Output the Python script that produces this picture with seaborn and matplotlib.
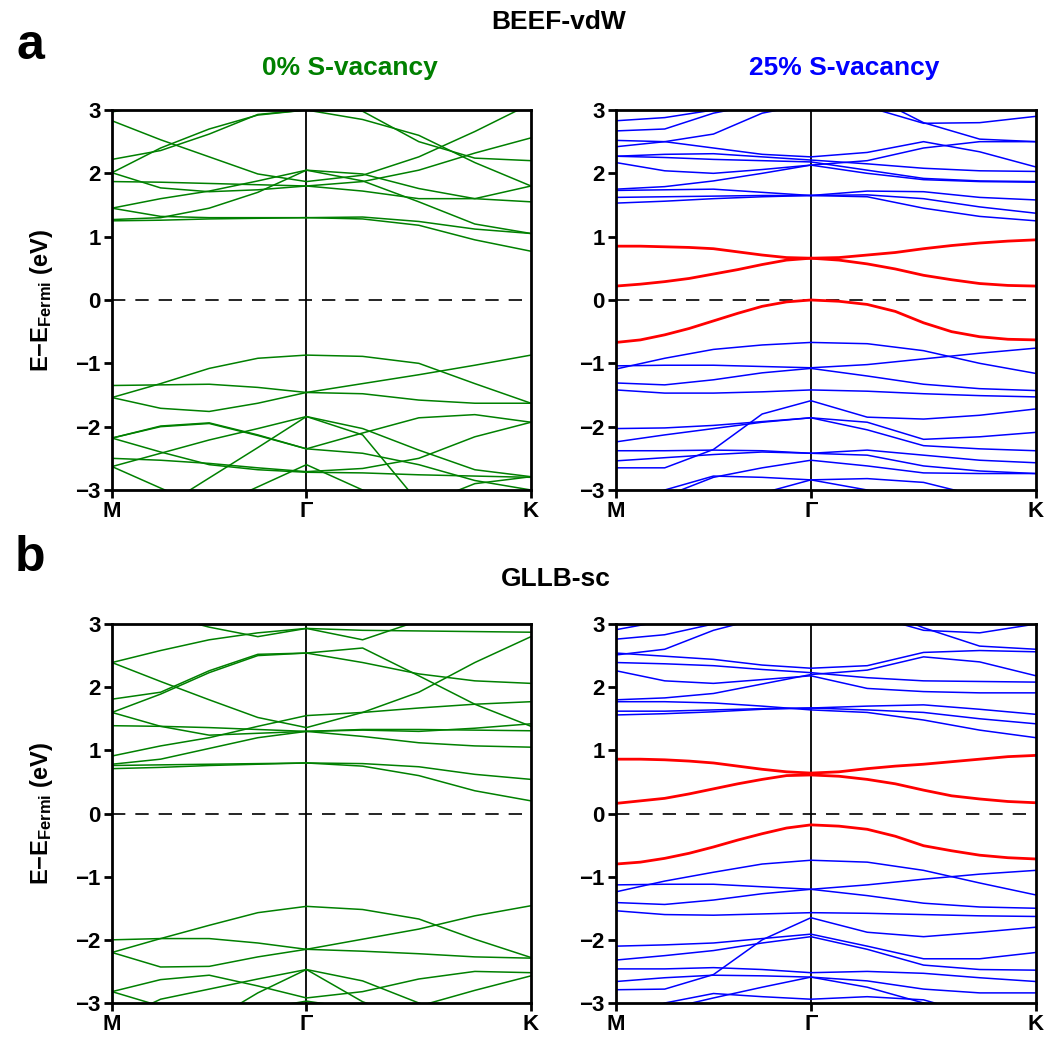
import matplotlib
matplotlib.use("Agg")
import matplotlib.pyplot as plt
import seaborn as sns
import pandas as pd

# k-path M -> Gamma -> K (Gamma-K is 2/sqrt(3) times longer than M-Gamma)
kpath = [0.0, 0.25, 0.5, 0.75, 1.0, 1.289, 1.578, 1.866, 2.155]
# finer sampling used for the thick defect (red) bands
kpath_fine = [0.0, 0.125, 0.25, 0.375, 0.5, 0.625, 0.75, 0.875, 1.0,
              1.144, 1.289, 1.433, 1.578, 1.722, 1.866, 2.011, 2.155]
k_ticks = [0.0, 1.0, 2.155]
k_labels = ['M', 'Γ', 'K']
e_ticks = [-3, -2, -1, 0, 1, 2, 3]

# --- BEEF-vdW, 0% S-vacancy (energies in eV at each kpath point) ---
beef_0_cond = [
    [2.97, 3.10, 3.30, 3.45, 3.50, 3.45, 3.35, 3.20, 3.10],
    [2.83, 2.53, 2.26, 1.99, 1.87, 1.97, 2.26, 2.66, 3.10],
    [2.22, 2.36, 2.62, 2.93, 3.00, 2.98, 2.50, 2.24, 2.20],
    [2.01, 2.40, 2.70, 2.92, 3.00, 2.85, 2.60, 2.17, 1.80],
    [1.45, 1.60, 1.72, 1.88, 2.05, 1.99, 1.76, 1.60, 1.55],
    [1.27, 1.30, 1.45, 1.70, 2.05, 1.88, 1.55, 1.20, 1.05],
    [2.01, 1.77, 1.71, 1.74, 1.80, 1.87, 2.05, 2.32, 2.56],
    [1.87, 1.86, 1.84, 1.82, 1.80, 1.72, 1.60, 1.60, 1.80],
    [1.25, 1.26, 1.28, 1.29, 1.30, 1.31, 1.24, 1.12, 1.05],
    [1.45, 1.32, 1.30, 1.30, 1.30, 1.28, 1.18, 0.95, 0.77],
]
beef_0_val = [
    [-1.54, -1.32, -1.08, -0.92, -0.87, -0.89, -1.00, -1.32, -1.63],
    [-1.35, -1.34, -1.33, -1.38, -1.46, -1.48, -1.58, -1.63, -1.63],
    [-1.54, -1.71, -1.76, -1.63, -1.46, -1.32, -1.18, -1.03, -0.87],
    [-2.18, -1.99, -1.94, -2.13, -2.35, -2.10, -1.86, -1.81, -1.93],
    [-2.18, -2.40, -2.60, -2.68, -2.72, -2.73, -2.76, -2.78, -2.80],
    [-2.50, -2.53, -2.58, -2.65, -2.71, -2.66, -2.50, -2.16, -1.93],
    [-2.63, -2.42, -2.21, -2.03, -1.84, -2.03, -2.37, -2.68, -2.79],
    [-3.78, -3.29, -2.81, -2.33, -1.84, -2.13, -3.20, -3.50, -3.70],
    [-2.63, -2.97, -3.30, -3.50, -3.60, -3.50, -3.25, -2.90, -2.79],
    [-3.60, -3.50, -3.30, -2.95, -2.60, -3.00, -3.30, -3.50, -3.60],
    [-2.18, -2.00, -1.95, -2.14, -2.35, -2.42, -2.60, -2.85, -3.00],
]

# --- BEEF-vdW, 25% S-vacancy ---
beef_25_cond = [
    [2.83, 2.88, 3.00, 3.10, 3.20, 3.05, 2.79, 2.80, 2.90],
    [2.67, 2.70, 2.95, 3.10, 3.25, 3.25, 2.80, 2.54, 2.50],
    [2.42, 2.50, 2.62, 2.95, 3.10, 3.20, 3.30, 3.30, 3.30],
    [2.52, 2.50, 2.40, 2.30, 2.26, 2.33, 2.50, 2.34, 2.10],
    [2.27, 2.30, 2.31, 2.26, 2.21, 2.15, 2.08, 2.04, 2.03],
    [2.27, 2.25, 2.22, 2.20, 2.18, 2.05, 1.92, 1.88, 1.87],
    [2.17, 2.04, 2.00, 2.06, 2.13, 2.00, 1.90, 1.87, 1.86],
    [1.75, 1.79, 1.88, 2.00, 2.13, 2.20, 2.40, 2.50, 2.50],
    [1.73, 1.74, 1.75, 1.70, 1.65, 1.72, 1.71, 1.62, 1.58],
    [1.62, 1.63, 1.64, 1.65, 1.65, 1.66, 1.60, 1.47, 1.37],
    [1.53, 1.56, 1.60, 1.63, 1.65, 1.63, 1.45, 1.32, 1.25],
]
beef_25_defect = [
    [0.85, 0.85, 0.84, 0.83, 0.81, 0.76, 0.71, 0.67, 0.66,
     0.67, 0.71, 0.75, 0.81, 0.86, 0.90, 0.93, 0.95],
    [0.22, 0.25, 0.29, 0.34, 0.41, 0.48, 0.56, 0.63, 0.66,
     0.63, 0.57, 0.49, 0.39, 0.32, 0.26, 0.23, 0.22],
    [-0.67, -0.63, -0.55, -0.45, -0.33, -0.21, -0.10, -0.03, 0.00,
     -0.02, -0.07, -0.18, -0.36, -0.50, -0.58, -0.62, -0.63],
]
beef_25_val = [
    [-1.09, -0.92, -0.78, -0.71, -0.67, -0.69, -0.80, -1.00, -1.16],
    [-1.04, -1.03, -1.03, -1.05, -1.07, -1.02, -0.93, -0.84, -0.76],
    [-1.31, -1.34, -1.26, -1.15, -1.08, -1.20, -1.33, -1.40, -1.43],
    [-1.42, -1.47, -1.47, -1.45, -1.42, -1.44, -1.48, -1.51, -1.53],
    [-2.65, -2.65, -2.36, -1.80, -1.59, -1.85, -1.88, -1.82, -1.72],
    [-2.24, -2.13, -2.03, -1.93, -1.86, -1.93, -2.20, -2.16, -2.09],
    [-2.03, -2.02, -1.98, -1.92, -1.86, -2.05, -2.30, -2.35, -2.38],
    [-2.38, -2.38, -2.37, -2.38, -2.42, -2.37, -2.45, -2.53, -2.57],
    [-2.54, -2.49, -2.44, -2.40, -2.42, -2.45, -2.62, -2.70, -2.74],
    [-3.30, -3.00, -2.78, -2.80, -2.84, -2.82, -2.88, -3.10, -3.30],
    [-3.50, -3.10, -2.80, -2.65, -2.53, -2.62, -2.73, -2.74, -2.74],
    [-3.60, -3.50, -3.30, -3.05, -2.84, -3.00, -3.20, -3.40, -3.50],
]

# --- GLLB-sc, 0% S-vacancy ---
gllb_0_cond = [
    [3.40, 3.15, 2.95, 2.80, 2.93, 2.75, 3.05, 3.30, 3.40],
    [2.39, 2.58, 2.75, 2.86, 2.93, 2.90, 2.89, 2.88, 2.87],
    [2.39, 2.09, 1.80, 1.52, 1.36, 1.60, 1.92, 2.39, 2.80],
    [1.81, 1.92, 2.26, 2.52, 2.54, 2.62, 2.18, 1.73, 1.38],
    [1.60, 1.89, 2.23, 2.50, 2.54, 2.39, 2.21, 2.10, 2.06],
    [1.60, 1.38, 1.24, 1.27, 1.30, 1.33, 1.33, 1.32, 1.31],
    [1.39, 1.38, 1.36, 1.33, 1.30, 1.22, 1.12, 1.07, 1.05],
    [0.91, 1.07, 1.20, 1.38, 1.55, 1.60, 1.67, 1.73, 1.77],
    [0.78, 0.86, 1.03, 1.20, 1.30, 1.32, 1.30, 1.35, 1.42],
    [0.76, 0.77, 0.78, 0.79, 0.80, 0.79, 0.74, 0.62, 0.54],
    [0.71, 0.73, 0.76, 0.78, 0.80, 0.75, 0.60, 0.36, 0.20],
]
gllb_0_val = [
    [-2.20, -1.98, -1.77, -1.57, -1.47, -1.52, -1.67, -1.99, -2.28],
    [-2.00, -1.98, -1.98, -2.05, -2.15, -1.99, -1.83, -1.62, -1.46],
    [-2.20, -2.43, -2.42, -2.27, -2.15, -2.18, -2.22, -2.27, -2.29],
    [-2.82, -2.63, -2.56, -2.73, -2.92, -2.82, -2.62, -2.50, -2.52],
    [-2.82, -3.05, -3.30, -3.50, -3.60, -3.50, -3.40, -3.20, -3.00],
    [-3.30, -2.94, -2.78, -2.62, -2.47, -2.65, -3.00, -3.30, -3.50],
    [-4.00, -3.70, -3.30, -2.84, -2.47, -2.98, -3.30, -3.60, -3.80],
    [-3.60, -3.50, -3.30, -3.10, -2.97, -3.10, -3.05, -2.80, -2.57],
]

# --- GLLB-sc, 25% S-vacancy ---
gllb_25_cond = [
    [2.91, 3.05, 3.20, 3.30, 3.40, 3.40, 3.30, 3.20, 3.10],
    [2.76, 2.83, 3.00, 3.20, 3.30, 3.15, 2.90, 2.86, 3.00],
    [2.51, 2.60, 2.90, 3.10, 3.20, 3.30, 2.94, 2.65, 2.60],
    [2.54, 2.49, 2.44, 2.35, 2.30, 2.34, 2.55, 2.58, 2.56],
    [2.39, 2.37, 2.34, 2.28, 2.23, 2.15, 2.10, 2.09, 2.08],
    [2.26, 2.10, 2.06, 2.12, 2.18, 1.98, 1.93, 1.91, 1.91],
    [1.80, 1.83, 1.90, 2.05, 2.20, 2.27, 2.48, 2.40, 2.18],
    [1.77, 1.77, 1.75, 1.70, 1.64, 1.60, 1.48, 1.32, 1.20],
    [1.62, 1.62, 1.64, 1.66, 1.67, 1.70, 1.72, 1.65, 1.57],
    [1.56, 1.58, 1.61, 1.65, 1.67, 1.64, 1.60, 1.50, 1.42],
]
gllb_25_defect = [
    [0.86, 0.86, 0.85, 0.83, 0.80, 0.75, 0.70, 0.66, 0.64,
     0.66, 0.71, 0.75, 0.78, 0.82, 0.86, 0.90, 0.92],
    [0.16, 0.20, 0.24, 0.31, 0.39, 0.47, 0.54, 0.60, 0.61,
     0.59, 0.54, 0.47, 0.37, 0.28, 0.23, 0.19, 0.17],
    [-0.80, -0.77, -0.71, -0.63, -0.53, -0.42, -0.32, -0.23, -0.18,
     -0.20, -0.25, -0.36, -0.51, -0.59, -0.66, -0.70, -0.72],
]
gllb_25_val = [
    [-1.24, -1.07, -0.93, -0.80, -0.74, -0.77, -0.90, -1.10, -1.29],
    [-1.13, -1.12, -1.12, -1.16, -1.20, -1.13, -1.04, -0.96, -0.90],
    [-1.41, -1.44, -1.37, -1.27, -1.20, -1.30, -1.42, -1.48, -1.50],
    [-1.54, -1.60, -1.61, -1.59, -1.57, -1.58, -1.60, -1.62, -1.63],
    [-2.10, -2.08, -2.05, -1.98, -1.91, -2.10, -2.30, -2.30, -2.20],
    [-2.32, -2.25, -2.17, -2.05, -1.95, -2.15, -2.40, -2.47, -2.48],
    [-2.79, -2.78, -2.55, -2.00, -1.65, -1.88, -1.95, -1.88, -1.80],
    [-2.46, -2.46, -2.44, -2.47, -2.52, -2.50, -2.53, -2.60, -2.66],
    [-2.66, -2.60, -2.56, -2.57, -2.59, -2.65, -2.78, -2.84, -2.84],
    [-3.30, -3.00, -2.85, -2.90, -2.94, -2.90, -2.95, -3.20, -3.40],
    [-3.50, -3.10, -2.92, -2.75, -2.59, -2.75, -3.00, -3.20, -3.40],
]

GREEN = '#008000'
BLUE = '#0000ff'
RED = '#ff0000'


def to_frame(bands, kgrid):
    rows = []
    for i, band in enumerate(bands):
        for k, e in zip(kgrid, band):
            rows.append((i, k, e))
    return pd.DataFrame(rows, columns=['band', 'k', 'E'])


def draw_bands(ax, bands, color, lw, kgrid=kpath):
    sns.lineplot(data=to_frame(bands, kgrid), x='k', y='E', units='band',
                 estimator=None, sort=False, color=color, lw=lw, ax=ax,
                 legend=False)


def style_axis(ax, ylabel=False):
    ax.set_xlim(0, kpath[-1])
    ax.set_ylim(-3, 3)
    ax.axvline(1.0, color='black', lw=1.3, zorder=0)
    ax.axhline(0, color='black', lw=1.2, ls=(0, (8, 6)), zorder=0)
    ax.set_xticks(k_ticks, k_labels)
    ax.set_yticks(e_ticks)
    ax.set_xlabel('')
    ax.set_ylabel('')
    for s in ax.spines.values():
        s.set_linewidth(2)
        s.set_color('black')
    ax.tick_params(axis='both', direction='out', length=6, width=2,
                   labelsize=16, pad=2, colors='black')
    for lab in ax.get_xticklabels() + ax.get_yticklabels():
        lab.set_fontweight('bold')
    if ylabel:
        ax.set_ylabel(r'E$-$E$_{\mathrm{Fermi}}$ (eV)', fontsize=17,
                      fontweight='bold', color='black')
        ax.yaxis.set_label_coords(-0.135, 0.5)


sns.set_style('ticks')
plt.rcParams['font.family'] = ['Liberation Sans', 'DejaVu Sans']
plt.rcParams['text.color'] = 'black'
plt.rcParams['axes.labelcolor'] = 'black'
plt.rcParams['xtick.color'] = 'black'
plt.rcParams['ytick.color'] = 'black'
plt.rcParams['mathtext.fontset'] = 'custom'
plt.rcParams['mathtext.rm'] = 'Liberation Sans:bold'
plt.rcParams['mathtext.it'] = 'Liberation Sans:bold'
plt.rcParams['mathtext.bf'] = 'Liberation Sans:bold'

W, H = 1047, 1038
fig = plt.figure(figsize=(W / 100, H / 100), dpi=100)

ax_tl = fig.add_axes([112 / W, 1 - 490 / H, 419 / W, 380 / H])
ax_tr = fig.add_axes([616 / W, 1 - 490 / H, 420 / W, 380 / H])
ax_bl = fig.add_axes([112 / W, 1 - 1003 / H, 419 / W, 379 / H])
ax_br = fig.add_axes([616 / W, 1 - 1003 / H, 420 / W, 379 / H])

draw_bands(ax_tl, beef_0_cond, GREEN, 1.1)
draw_bands(ax_tl, beef_0_val, GREEN, 1.1)
draw_bands(ax_tr, beef_25_cond, BLUE, 1.1)
draw_bands(ax_tr, beef_25_val, BLUE, 1.1)
draw_bands(ax_tr, beef_25_defect, RED, 2.0, kpath_fine)
draw_bands(ax_bl, gllb_0_cond, GREEN, 1.1)
draw_bands(ax_bl, gllb_0_val, GREEN, 1.1)
draw_bands(ax_br, gllb_25_cond, BLUE, 1.1)
draw_bands(ax_br, gllb_25_val, BLUE, 1.1)
draw_bands(ax_br, gllb_25_defect, RED, 2.0, kpath_fine)

style_axis(ax_tl, ylabel=True)
style_axis(ax_tr)
style_axis(ax_bl, ylabel=True)
style_axis(ax_br)

title_font = ['Liberation Sans Narrow', 'Liberation Sans', 'DejaVu Sans']
fig.text(559 / W, 1 - 22 / H, 'BEEF-vdW', ha='center', va='center',
         fontsize=19, fontweight='bold', family=title_font, color='black')
fig.text(556 / W, 1 - 579 / H, 'GLLB-sc', ha='center', va='center',
         fontsize=19, fontweight='bold', family=title_font, color='black')
fig.text(350 / W, 1 - 68 / H, '0% S-vacancy', ha='center', va='center',
         fontsize=19, fontweight='bold', color=GREEN, family=title_font)
fig.text(844 / W, 1 - 68 / H, '25% S-vacancy', ha='center', va='center',
         fontsize=19, fontweight='bold', color=BLUE, family=title_font)
fig.text(30 / W, 1 - 46 / H, 'a', ha='center', va='center',
         fontsize=36, fontweight='bold', color='black')
fig.text(30 / W, 1 - 558 / H, 'b', ha='center', va='center',
         fontsize=36, fontweight='bold', color='black')

fig.savefig('out.png', dpi=100)
